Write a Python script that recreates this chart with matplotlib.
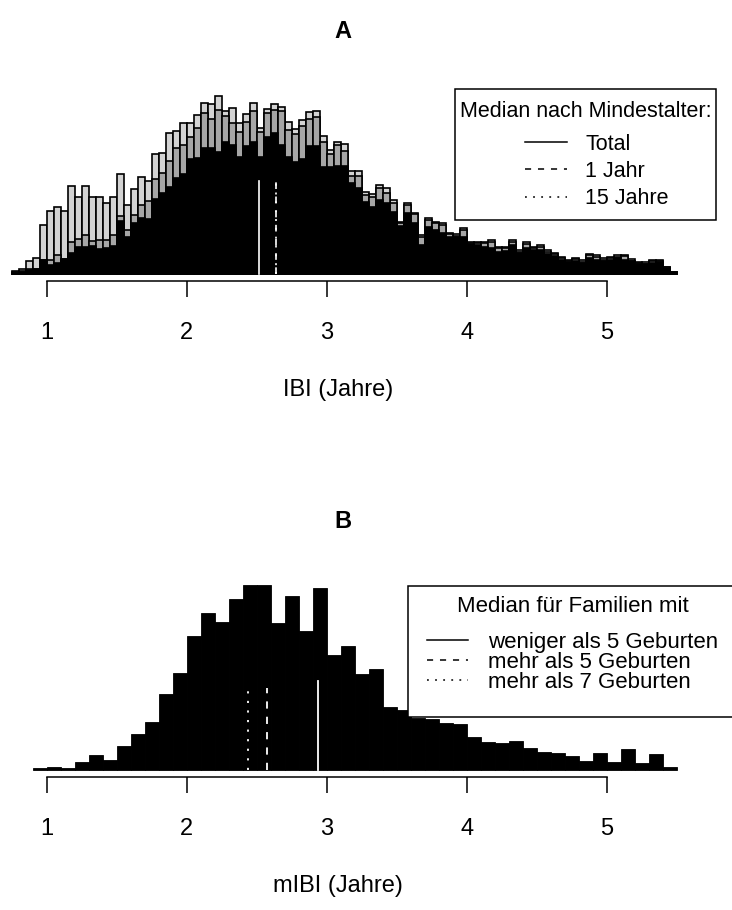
import matplotlib

matplotlib.use("Agg")
import matplotlib.pyplot as plt
from matplotlib.lines import Line2D
from matplotlib.patches import Rectangle

plt.rcParams["font.family"] = ["Liberation Sans", "DejaVu Sans"]

FIG_W, FIG_H = 732, 910
FONT_SIZE = 17

# panel A: IBI, bins of 0.05 years from 0.75 to 5.5
IBI_BIN_START = 0.75
IBI_BIN_WIDTH = 0.05
IBI_TOTAL = [
    3, 5, 13, 16, 49, 63, 67, 63, 88, 77,
    88, 77, 77, 71, 77, 100, 69, 85, 97, 93,
    120, 121, 141, 143, 151, 151, 159, 171, 170, 178,
    163, 166, 151, 160, 171, 146, 165, 170, 167, 152,
    145, 154, 162, 163, 138, 124, 132, 130, 103, 103,
    82, 80, 89, 86, 74, 52, 71, 61, 39, 56,
    52, 51, 41, 40, 46, 32, 32, 32, 34, 27,
    27, 34, 24, 32, 27, 29, 24, 21, 17, 14,
    16, 14, 20, 19, 16, 17, 19, 19, 15, 12,
    12, 14, 14, 7, 2.5,
]
IBI_MIN_1 = [
    2, 3, 5, 5, 14, 14, 19, 15, 32, 35,
    39, 33, 34, 34, 39, 58, 44, 59, 69, 73,
    95, 101, 113, 126, 129, 137, 146, 161, 155, 164,
    158, 151, 142, 152, 163, 142, 161, 164, 163, 144,
    140, 148, 155, 157, 132, 120, 129, 123, 98, 98,
    79, 77, 86, 81, 71, 51, 69, 60, 37, 54,
    51, 49, 40, 38, 44, 31, 31, 31, 32, 26,
    26, 32, 22, 30, 26, 27, 22, 20, 16, 13,
    15, 12, 19, 17, 14, 16, 17, 18, 13, 11,
    10, 13, 13, 7, 2,
]
IBI_MIN_15 = [
    1.5, 2.3, 4, 4.7, 14, 9, 11, 15, 21, 27,
    27, 28, 25, 26, 28, 53, 37, 51, 56, 55,
    75, 81, 87, 96, 100, 115, 116, 126, 126, 122,
    132, 129, 117, 128, 132, 117, 137, 141, 129, 117,
    112, 115, 128, 128, 107, 107, 108, 108, 91, 86,
    72, 67, 74, 71, 62, 48, 61, 51, 29, 47,
    44, 41, 37, 37, 37, 30, 29, 27, 26, 22,
    23, 29, 21, 26, 24, 24, 20, 18, 14, 12,
    13, 11, 16, 14, 13, 14, 16, 14, 13, 10,
    10, 11, 12, 6, 2,
]
IBI_MEDIANS = [2.514, 2.635, 2.640]
IBI_MEDIAN_TOPS = [93, 93, 93]
IBI_KEY_TITLE = "Median nach Mindestalter:"
IBI_KEY_LABELS = ["Total", "1 Jahr", "15 Jahre"]

# panel B: mIBI, bins of 0.1 years from 0.9 to 5.5
MIBI_BIN_START = 0.9
MIBI_BIN_WIDTH = 0.1
MIBI_COUNTS = [
    2.3, 3.3, 2.3, 8.3, 15, 10, 24.3, 35.7, 48.3, 75.7,
    97.3, 134.3, 156.7, 148.3, 170.7, 185, 185, 147.3, 174, 139,
    181.7, 115, 124, 96, 100.7, 63, 60, 52, 51, 47,
    46, 33, 28, 26.7, 29.3, 21.7, 18.3, 17.3, 14, 9.3,
    17.3, 8.3, 20.7, 7.3, 16, 3.3,
]
MIBI_MEDIANS = [2.941, 2.571, 2.436]
MIBI_MEDIAN_TOPS = [89, 82, 86]
MIBI_KEY_TITLE = "Median für Familien mit"
MIBI_KEY_LABELS = ["weniger als 5 Geburten", "mehr als 5 Geburten", "mehr als 7 Geburten"]

X_TICKS = [1, 2, 3, 4, 5]
LINE_STYLES = ["-", (0, (4, 4.5)), (0, (1.2, 4.1))]

# x scale: 1 year sits at pixel 46.7, 140 px per year
X_MIN = 1 - 46.7 / 140
X_MAX = X_MIN + FIG_W / 140
LABEL_X_PX = 338


def fx(x):
    return x / FIG_W


def fy(y):
    return 1 - y / FIG_H


def make_axes(fig, axis_px, base_px, top_px, xlabel):
    ax = fig.add_axes([0, fy(axis_px), 1, (axis_px - top_px) / FIG_H])
    ax.set_xlim(X_MIN, X_MAX)
    ax.set_ylim(-(axis_px - base_px), base_px - top_px)
    ax.patch.set_visible(False)
    for side in ["left", "top", "right"]:
        ax.spines[side].set_visible(False)
    ax.spines["bottom"].set_bounds(X_TICKS[0], X_TICKS[-1])
    ax.spines["bottom"].set_linewidth(1.1)
    ax.set_yticks([])
    ax.set_xticks(X_TICKS)
    ax.set_xticklabels([str(t) for t in X_TICKS])
    ax.tick_params(axis="x", length=11.5, width=1.1, pad=18, labelsize=FONT_SIZE)
    ax.set_xlabel(xlabel, fontsize=FONT_SIZE, labelpad=25.5, x=fx(LABEL_X_PX))
    return ax


def draw_medians(ax, medians, tops, lw):
    for x, top, ls in zip(medians, tops, LINE_STYLES):
        ax.plot([x, x], [0, top], color="white", lw=lw, linestyle=ls)


def draw_key(fig, box, title, title_pos, labels, rows, line_x, text_x, size):
    x0, y0, x1, y1 = box
    fig.add_artist(
        Rectangle(
            (fx(x0), fy(y1)), fx(x1) - fx(x0), fy(y0) - fy(y1),
            transform=fig.transFigure, facecolor="white", edgecolor="black", lw=1.1,
        )
    )
    fig.text(fx(title_pos[0]), fy(title_pos[1]), title, ha="center", va="baseline", fontsize=size)
    for label, y, ls in zip(labels, rows, LINE_STYLES):
        fig.add_artist(
            Line2D([fx(line_x[0]), fx(line_x[1])], [fy(y), fy(y)],
                   transform=fig.transFigure, color="black", lw=1.1, linestyle=ls)
        )
        fig.text(fx(text_x), fy(y + 8), label, ha="left", va="baseline", fontsize=size)


fig = plt.figure(figsize=(FIG_W / 100, FIG_H / 100), dpi=100)

# ---- A
ax_a = make_axes(fig, axis_px=281, base_px=274, top_px=88, xlabel="IBI (Jahre)")
edges_a = [IBI_BIN_START + i * IBI_BIN_WIDTH for i in range(len(IBI_TOTAL))]
for heights, colour in [(IBI_TOTAL, "#d3d3d3"), (IBI_MIN_1, "#a6a6a6"), (IBI_MIN_15, "black")]:
    ax_a.bar(edges_a, heights, width=IBI_BIN_WIDTH, align="edge",
             color=colour, edgecolor="black", linewidth=1.2)
draw_medians(ax_a, IBI_MEDIANS, IBI_MEDIAN_TOPS, lw=1.2)
fig.text(fx(343), fy(38), "A", ha="center", va="baseline", fontsize=FONT_SIZE, fontweight="bold")
draw_key(fig, (455, 89, 716, 220), IBI_KEY_TITLE, (585.5, 117), IBI_KEY_LABELS,
         rows=[141.7, 169.3, 196.5], line_x=(525, 567), text_x=585, size=15.5)

# ---- B
ax_b = make_axes(fig, axis_px=777, base_px=770, top_px=578, xlabel="mIBI (Jahre)")
edges_b = [MIBI_BIN_START + i * MIBI_BIN_WIDTH for i in range(len(MIBI_COUNTS))]
ax_b.bar(edges_b, MIBI_COUNTS, width=MIBI_BIN_WIDTH, align="edge",
         color="black", edgecolor="black", linewidth=0.6)
draw_medians(ax_b, MIBI_MEDIANS, MIBI_MEDIAN_TOPS, lw=1.3)
fig.text(fx(343), fy(528), "B", ha="center", va="baseline", fontsize=FONT_SIZE, fontweight="bold")
draw_key(fig, (408, 586, 740, 717), MIBI_KEY_TITLE, (572.5, 611.5), MIBI_KEY_LABELS,
         rows=[640, 660, 680], line_x=(427, 468), text_x=488, size=16)

fig.savefig("out.png", dpi=100)
